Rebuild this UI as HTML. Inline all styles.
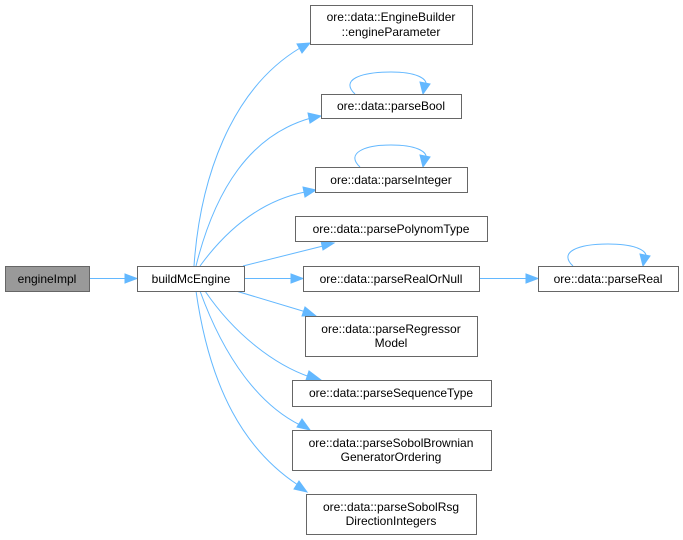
<!DOCTYPE html>
<html><head><meta charset="utf-8"><style>
html,body{margin:0;padding:0;background:#fff;}
svg{display:block;}
text{font-family:"Liberation Sans",Arial,sans-serif;font-size:12px;fill:#000;text-anchor:middle;}
.n{fill:#fff;stroke:#666;stroke-width:1;}
.e{fill:none;stroke:#63b8ff;stroke-width:1;}
.a{fill:#63b8ff;stroke:#63b8ff;}
</style></head><body>
<svg width="683" height="540" viewBox="0 0 683 540">
<!-- edges -->
<path class="e" d="M89,278.5 H126"/><polygon class="a" points="137,278.5 125,274 125,283"/>
<path class="e" d="M194,266 C200,180 230,90 300,48"/><polygon class="a" points="310,43 297,44 302,53"/>
<path class="e" d="M196,266 C215,190 250,135 311,118"/><polygon class="a" points="321,116 308,113 310,123"/>
<path class="e" d="M200,266 C230,225 265,200 305,192"/><polygon class="a" points="316,190 303,187 305,197"/>
<path class="e" d="M243,266 L323,246"/><polygon class="a" points="334,243 321,241 323,250"/>
<path class="e" d="M244,278.5 H292"/><polygon class="a" points="303,278.5 291,274 291,283"/>
<path class="e" d="M236,291 L306,312"/><polygon class="a" points="316,316 305,307 302,316"/>
<path class="e" d="M205,291 C235,335 275,365 310,377"/><polygon class="a" points="321,380 309,371 306,380"/>
<path class="e" d="M200,291 C225,360 260,405 300,425"/><polygon class="a" points="310,430 302,419 297,427"/>
<path class="e" d="M196,291 C210,390 245,450 298,485"/><polygon class="a" points="307,492 299,481 294,489"/>
<path class="e" d="M479,278.5 H527"/><polygon class="a" points="538,278.5 526,274 526,283"/>
<!-- self loops -->
<path class="e" d="M355,94 C340,80 360,72 391,72 C415,72 428,78 426,86"/><polygon class="a" points="423,94 420,82 430,84"/>
<path class="e" d="M360,167 C345,153 365,145 391,145 C415,145 428,151 426,159"/><polygon class="a" points="423,167 420,155 430,157"/>
<path class="e" d="M573,266 C558,252 578,244 608,244 C634,244 648,250 646,258"/><polygon class="a" points="643,266 640,254 650,256"/>
<!-- nodes -->
<rect x="5.5" y="266.5" width="84" height="25" style="fill:#999;stroke:#666"/><text x="47" y="283">engineImpl</text>
<rect class="n" x="137.5" y="266.5" width="107" height="25"/><text x="191" y="283">buildMcEngine</text>
<rect class="n" x="310.5" y="5.5" width="162" height="39"/><text x="391" y="21">ore::data::EngineBuilder</text><text x="391" y="36">::engineParameter</text>
<rect class="n" x="321.5" y="94.5" width="140" height="24"/><text x="391" y="110">ore::data::parseBool</text>
<rect class="n" x="315.5" y="167.5" width="152" height="25"/><text x="391" y="184">ore::data::parseInteger</text>
<rect class="n" x="295.5" y="216.5" width="192" height="25"/><text x="391" y="233">ore::data::parsePolynomType</text>
<rect class="n" x="303.5" y="266.5" width="176" height="25"/><text x="391" y="283">ore::data::parseRealOrNull</text>
<rect class="n" x="538.5" y="266.5" width="140" height="25"/><text x="608" y="283">ore::data::parseReal</text>
<rect class="n" x="305.5" y="316.5" width="172" height="40"/><text x="391" y="333">ore::data::parseRegressor</text><text x="391" y="347">Model</text>
<rect class="n" x="292.5" y="380.5" width="199" height="26"/><text x="391" y="397">ore::data::parseSequenceType</text>
<rect class="n" x="292.5" y="430.5" width="199" height="40"/><text x="391" y="447">ore::data::parseSobolBrownian</text><text x="391" y="461">GeneratorOrdering</text>
<rect class="n" x="306.5" y="494.5" width="170" height="40"/><text x="391" y="511">ore::data::parseSobolRsg</text><text x="391" y="525">DirectionIntegers</text>
</svg>
</body></html>
